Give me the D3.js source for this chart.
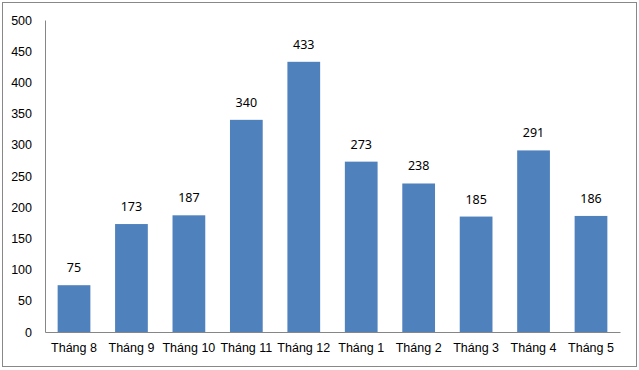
<!DOCTYPE html>
<html>
<head>
<meta charset="utf-8">
<script src="https://cdn.jsdelivr.net/npm/d3@7"></script>
<style>
  body { margin: 0; background: #fff; }
  svg { display: block; font-family: "Noto Sans", "DejaVu Sans", sans-serif; }
</style>
</head>
<body>
<svg width="639" height="370"></svg>
<script>
const months = ["Tháng 8", "Tháng 9", "Tháng 10", "Tháng 11", "Tháng 12", "Tháng 1", "Tháng 2", "Tháng 3", "Tháng 4", "Tháng 5"];
const values = [75, 173, 187, 340, 433, 273, 238, 185, 291, 186];
const yTicks = [0, 50, 100, 150, 200, 250, 300, 350, 400, 450, 500];

const svg = d3.select("svg");

// outer frame
svg.append("rect")
  .attr("x", 2.5).attr("y", 2.5)
  .attr("width", 634).attr("height", 364)
  .attr("fill", "#fff")
  .attr("stroke", "#888")
  .attr("stroke-width", 1);

const margin = {top: 20, right: 19, bottom: 38, left: 45};
const width  = 639 - margin.left - margin.right;
const height = 370 - margin.top - margin.bottom;

const g = svg.append("g").attr("transform", "translate(" + margin.left + "," + margin.top + ")");

const x = d3.scaleBand().domain(months).range([0, width]).paddingInner(0.43).paddingOuter(0.22);
const y = d3.scaleLinear().domain([0, 500]).range([height, 0]);

// y axis
const yAxis = g.append("g")
  .call(d3.axisLeft(y).tickValues(yTicks).tickSize(0).tickPadding(13));
yAxis.select(".domain").attr("stroke", "#868686");
yAxis.selectAll("text").attr("font-size", 12.5).attr("fill", "#000");

// x axis
const xAxis = g.append("g")
  .attr("transform", "translate(0," + height + ")")
  .call(d3.axisBottom(x).tickSize(0).tickPadding(11));
xAxis.select(".domain").attr("stroke", "#868686");
xAxis.selectAll("text").attr("font-size", 12.5).attr("fill", "#000");

// bars
g.selectAll(".bar")
  .data(values)
  .enter().append("rect")
  .attr("class", "bar")
  .attr("x", (d, i) => x(months[i]))
  .attr("y", d => y(d))
  .attr("width", x.bandwidth())
  .attr("height", d => height - y(d))
  .attr("fill", "#4f81bd");

// value labels
g.selectAll(".val")
  .data(values)
  .enter().append("text")
  .attr("class", "val")
  .attr("x", (d, i) => x(months[i]) + x.bandwidth() / 2)
  .attr("y", d => y(d) - 13)
  .attr("text-anchor", "middle")
  .attr("font-size", 12.5)
  .attr("fill", "#000")
  .text(d => d);
</script>
</body>
</html>
